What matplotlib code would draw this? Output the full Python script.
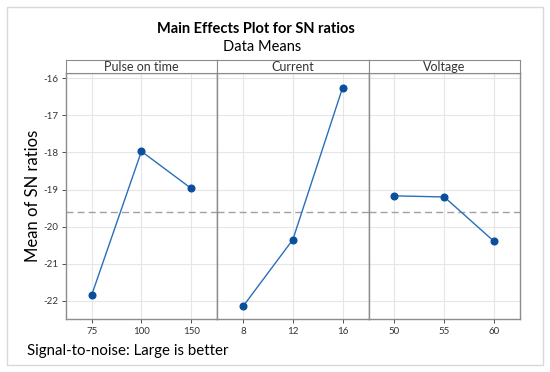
import matplotlib.pyplot as plt
from matplotlib.patches import Rectangle

plt.rcParams['font.family'] = ['Lato', 'DejaVu Sans']

# data
factors = ["Pulse on time", "Current", "Voltage"]
levels = [["75", "100", "150"], ["8", "12", "16"], ["50", "55", "60"]]
sn_means = [[-21.85, -17.97, -18.97],
            [-22.15, -20.35, -16.25],
            [-19.17, -19.20, -20.40]]
grand_mean = -19.6
yticks = [-22, -21, -20, -19, -18, -17, -16]

W, H = 550, 372
fig = plt.figure(figsize=(W / 100, H / 100), dpi=100)

# outer frame
fig.patches.append(Rectangle((7 / W, 7 / H), 536 / W, 358 / H, transform=fig.transFigure,
                             fill=False, edgecolor="#d8d8d8", lw=1))

x0, x1 = 65.7, 520
pw = (x1 - x0) / 3
top, bot, strip_h = 72.7, 319, 13

for i in range(3):
    left = x0 + i * pw
    ax = fig.add_axes([left / W, 1 - bot / H, pw / W, (bot - top) / H])
    xs = list(range(3))
    ax.plot(xs, sn_means[i], color="#2a6ebb", lw=1, zorder=3)
    ax.plot(xs, sn_means[i], "o", color="#0b4f9c", ms=4.8, zorder=4)
    ax.axhline(grand_mean, color="#a0a0a0", lw=1, ls=(0, (5, 3)), zorder=2)
    ax.set_xlim(-0.52, 2.52)
    ax.set_ylim(-22.49, -15.85)
    ax.set_xticks(xs)
    ax.set_xticklabels(levels[i])
    ax.set_yticks(yticks)
    ax.grid(True, color="#e6e6e6", lw=0.8, zorder=0)
    ax.tick_params(labelsize=7, colors="#333333", length=3, width=0.6, pad=2.5)
    for s in ax.spines.values():
        s.set_color("#8c8c8c")
        s.set_linewidth(1)
    if i == 0:
        ax.set_ylabel("Mean of SN ratios", fontsize=12)
        ax.yaxis.set_label_coords(-0.165, 0.5)
        ax.set_yticklabels([str(t) for t in yticks])
    else:
        ax.tick_params(axis="y", left=False, labelleft=False)
    # strip
    sax = fig.add_axes([left / W, 1 - top / H, pw / W, strip_h / H])
    sax.set_xticks([])
    sax.set_yticks([])
    for s in sax.spines.values():
        s.set_color("#8c8c8c")
    sax.text(0.5, 0.45, factors[i], ha="center", va="center", fontsize=9,
             color="#333333", transform=sax.transAxes)

fig.text(256 / W, 1 - 29 / H, "Main Effects Plot for SN ratios", ha="center", va="center",
         fontsize=10.5, fontweight="bold")
fig.text(262 / W, 1 - 47 / H, "Data Means", ha="center", va="center", fontsize=10.5)
fig.text(27 / W, 1 - 351 / H, "Signal-to-noise: Large is better", ha="left", va="center",
         fontsize=10.8)

fig.savefig("out.png", dpi=100)
